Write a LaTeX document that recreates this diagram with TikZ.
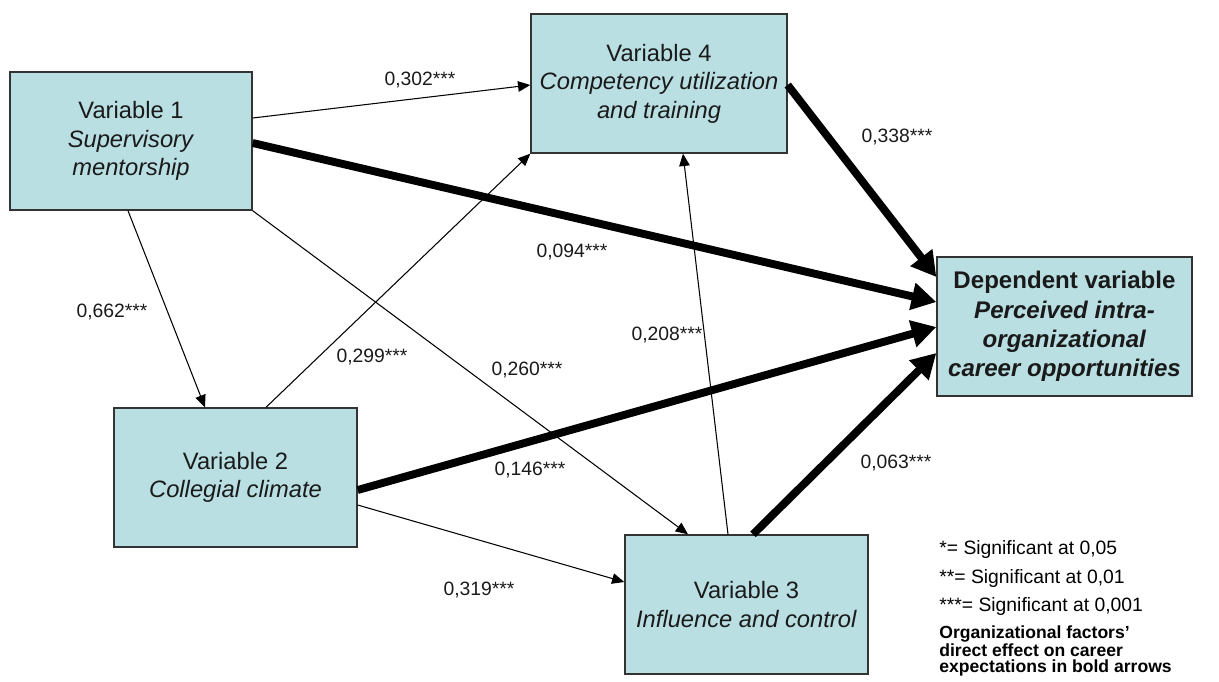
\documentclass[tikz,border=0pt]{standalone}
\usepackage{fontspec}
\setmainfont{Liberation Sans}
\usetikzlibrary{arrows.meta}
\definecolor{boxfill}{HTML}{B9DFE3}
\definecolor{boxline}{HTML}{333333}
\definecolor{ink}{HTML}{1A1A1A}
\begin{document}
\begin{tikzpicture}[x=0.02cm,y=-0.02cm,
  varbox/.style={draw=boxline, fill=boxfill, line width=0.8pt, inner sep=0pt,
    align=center, text=ink, font=\fontsize{13.5}{16.2}\selectfont},
  thinarrow/.style={-{Triangle[length=7pt,width=6pt]}, line width=0.6pt},
  boldarrow/.style={-{Triangle[length=14pt,width=15pt]}, line width=4.5pt},
  coef/.style={font=\fontsize{11}{13}\selectfont, inner sep=0pt, text=ink},
  legend/.style={font=\fontsize{11}{13}\selectfont, anchor=west, inner sep=0pt}]
\useasboundingbox (0,0) rectangle (1219,681);

% variables
\node[varbox, minimum width=4.84cm, minimum height=2.76cm] (v1) at (131,141)
  {Variable 1\\\textit{Supervisory}\\\textit{mentorship}};
\node[varbox, minimum width=5.12cm, minimum height=2.78cm] (v4) at (659,83.5)
  {Variable 4\\\textit{Competency utilization}\\\textit{and training}};
\node[varbox, minimum width=4.86cm, minimum height=2.78cm] (v2) at (235.5,477.5)
  {Variable 2\\\textit{Collegial climate}};
\node[varbox, minimum width=4.86cm, minimum height=2.78cm] (v3) at (746.5,604.5)
  {Variable 3\\\textit{Influence and control}};
\node[varbox, minimum width=5.10cm, minimum height=2.78cm,
  font=\bfseries\fontsize{13.7}{16.6}\selectfont] (dep) at (1064.5,326.5)
  {Dependent variable\\\textit{Perceived intra-}\\\textit{organizational}\\\textit{career opportunities}};

% indirect paths
\draw[thinarrow] (v1.east |- 0,118) -- (v4.west |- 0,85);
\draw[thinarrow] (128,0 |- v1.south) -- (205,0 |- v2.north);
\draw[thinarrow] (v1.south east) -- (688,0 |- v3.north);
\draw[thinarrow] (266,0 |- v2.north) -- (v4.south west);
\draw[thinarrow] (v2.east |- 0,505) -- (v3.west |- 0,582);
\draw[thinarrow] (728,0 |- v3.north) -- (683,0 |- v4.south);

% direct effects on the dependent variable
\draw[boldarrow] (v4.east |- 0,85) -- (dep.west |- 0,277);
\draw[boldarrow] (v1.east |- 0,143) -- (dep.west |- 0,302);
\draw[boldarrow] (v2.east |- 0,490) -- (dep.west |- 0,327);
\draw[boldarrow] (753,0 |- v3.north) -- (dep.west |- 0,353);

% coefficients
\node[coef] (c302) at (420,80) {0,302***};
\node[coef] (c338) at (897,137) {0,338***};
\node[coef] (c094) at (572,252) {0,094***};
\node[coef] (c662) at (112,312) {0,662***};
\node[coef] (c299) at (372,357) {0,299***};
\node[coef] (c208) at (667,335) {0,208***};
\node[coef] (c260) at (527,370) {0,260***};
\node[coef] (c146) at (530,470) {0,146***};
\node[coef] (c063) at (896,463) {0,063***};
\node[coef] (c319) at (479,590) {0,319***};

% legend
\node[legend] (s1) at (939,549) {*= Significant at 0,05};
\node[legend] (s2) at (939,578) {**= Significant at 0,01};
\node[legend] (s3) at (939,606) {***= Significant at 0,001};
\node[anchor=north west, inner sep=0pt, align=left,
  font=\bfseries\fontsize{10}{9.2}\selectfont] (note) at (939,625)
  {Organizational factors'\\direct effect on career\\expectations in bold arrows};
\end{tikzpicture}
\end{document}
